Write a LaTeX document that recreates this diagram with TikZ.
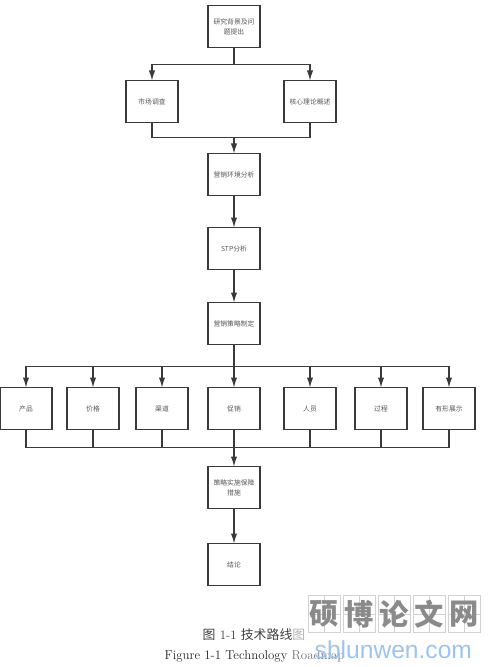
\documentclass[tikz,border=0pt]{standalone}
\usepackage{fontspec}
\usepackage{tikz}
\usetikzlibrary{arrows.meta, positioning}
\newfontfamily\cjk{Noto Sans CJK SC}
\definecolor{linegray}{HTML}{3A3A3A}
\definecolor{textgray}{HTML}{555555}
\definecolor{markgray}{HTML}{8A8A8A}
\definecolor{gridgray}{HTML}{D2D2D2}
\definecolor{markblue}{HTML}{9CC4EE}

\begin{document}
\begin{tikzpicture}[
    box/.style={rectangle, draw=linegray, line width=0.95pt, outer sep=0pt, minimum width=1.56cm, minimum height=1.26cm, inner sep=1pt, align=center, text=textgray, font=\cjk\fontsize{5.8}{8.5}\selectfont},
    arrow/.style={->, line width=1pt, draw=linegray, >={Latex[length=0.3cm, width=0.19cm]}},
    link/.style={line width=1pt, draw=linegray},
    cell/.style={rectangle, draw=gridgray, line width=0.5pt, outer sep=0pt, minimum width=0.96cm, minimum height=1.11cm, inner sep=0pt, text=markgray, font=\cjk\bfseries\fontsize{25}{25}\selectfont,
        path picture={\draw[gridgray, line width=0.4pt] (path picture bounding box.north) -- (path picture bounding box.south) (path picture bounding box.west) -- (path picture bounding box.east);}}
]
    \useasboundingbox (0,0) rectangle (14.91,-20.01);

    % 主干流程
    \node[box] (research) at (7.02,-0.795) {研究背景及问\\题提出};
    \node[box, below left=0.99cm and 0.9cm of research] (market) {市场调查};
    \node[box, below right=0.99cm and 0.72cm of research] (core) {核心理论概述};
    \node[box, below=3.18cm of research] (env) {营销环境分析};
    \node[box, below=0.96cm of env] (stp) {STP分析};
    \node[box, below=0.99cm of stp] (strategy) {营销策略制定};

    % 七个要素
    \node[box, below=1.29cm of strategy] (promo) {促销};
    \node[box, left=0.6cm of promo] (channel) {渠道};
    \node[box, left=0.51cm of channel] (price) {价格};
    \node[box, left=0.45cm of price] (product) {产品};
    \node[box, right=0.72cm of promo] (people) {人员};
    \node[box, right=0.57cm of people] (process) {过程};
    \node[box, right=0.48cm of process] (tangible) {有形展示};

    % 收尾
    \node[box, below=1.11cm of promo] (guarantee) {策略实施保障\\措施};
    \node[box, below=1.05cm of guarantee] (conclusion) {结论};

    % 分支点
    \coordinate[below=0.51cm of research] (topsplit);
    \coordinate[below=0.45cm of market.south -| research] (topmerge);
    \coordinate[below=0.66cm of strategy] (bustop);
    \coordinate[below=0.54cm of promo] (busbottom);

    % 箭头
    \draw[link] (research) -- (topsplit);
    \draw[arrow] (topsplit) -| (market);
    \draw[arrow] (topsplit) -| (core);
    \draw[link] (market) |- (topmerge);
    \draw[link] (core) |- (topmerge);
    \draw[arrow] (topmerge) -- (env);
    \draw[arrow] (env) -- (stp);
    \draw[arrow] (stp) -- (strategy);
    \draw[link] (strategy) -- (bustop);
    \foreach \item in {product, price, channel, people, process, tangible} {
        \draw[arrow] (bustop) -| (\item);
        \draw[link] (\item) |- (busbottom);
    }
    \draw[arrow] (bustop) -- (promo);
    \draw[link] (promo) -- (busbottom);
    \draw[arrow] (busbottom) -- (guarantee);
    \draw[arrow] (guarantee) -- (conclusion);

    % 图题
    \node[font=\fontsize{11}{13}\selectfont, text=black!75] (captioncn) at (7.62,-19.05) {{\cjk 图} 1-1 {\cjk 技术路线}\textcolor{gray!60}{\cjk 图}};
    \node[font=\fontsize{11}{13}\selectfont, text=black!85] (captionen) at (7.635,-19.68) {Figure 1-1 Technology \textcolor{black!55}{Roadmap}};

    % 水印
    \node[cell] (markone) at (9.72,-18.42) {硕};
    \node[cell, right=0.09cm of markone] (marktwo) {博};
    \node[cell, right=0.09cm of marktwo] (markthree) {论};
    \node[cell, right=0.09cm of markthree] (markfour) {文};
    \node[cell, right=0.09cm of markfour] (markfive) {网};
    \node[text=markblue, font=\fontfamily{lmss}\fontsize{21}{24}\selectfont] (markurl) at (11.8,-19.5) {\setmainfont{Liberation Sans}sblunwen.com};
\end{tikzpicture}
\end{document}
